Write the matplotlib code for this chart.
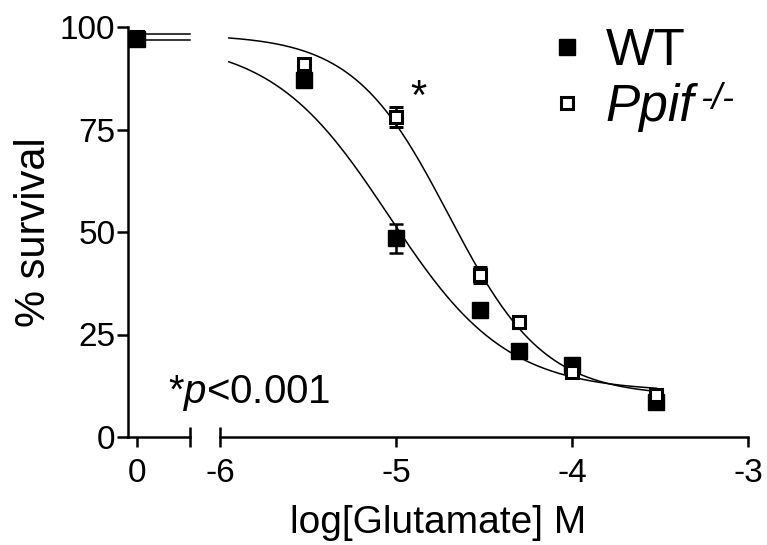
import numpy as np
import matplotlib
matplotlib.use("Agg")
import matplotlib.pyplot as plt

plt.rcParams['font.family'] = ['Liberation Sans', 'DejaVu Sans']
plt.rcParams['mathtext.fontset'] = 'custom'
plt.rcParams['mathtext.rm'] = 'Liberation Sans'
plt.rcParams['mathtext.it'] = 'Liberation Sans:italic'
plt.rcParams['axes.unicode_minus'] = False

# survival data
log_glu = [-5.52, -5.0, -4.52, -4.3, -4.0, -3.52]
wt_mean = [87, 48.5, 31, 21, 17.5, 8.5]
wt_sem = [1.5, 3.5, 1, 1, 1, 1]
ppif_mean = [91, 78, 39.5, 28, 15.8, 10.3]
ppif_sem = [1, 2.5, 2, 1, 1, 1]
ctrl_wt, ctrl_wt_sem = 97, 1.5
ctrl_ppif, ctrl_ppif_sem = 97.5, 1

# sigmoid fit parameters (top, bottom, logIC50, hill)
wt_fit = (96.8, 11, -5.04, 1.3)
ppif_fit = (98.2, 10, -4.70, 1.6)


def sigmoid(x, top, bottom, logic50, hill):
    return bottom + (top - bottom) / (1 + 10 ** (hill * (x - logic50)))


W, H = 767, 545
fig = plt.figure(figsize=(W / 100, H / 100), dpi=100)
ax0 = fig.add_axes([128 / W, (H - 437) / H, 62 / W, 410 / H])
ax1 = fig.add_axes([220 / W, (H - 437) / H, 528 / W, 410 / H])

lw = 1.8
for ax in (ax0, ax1):
    ax.set_ylim(0, 100)
    for s in ('top', 'right'):
        ax.spines[s].set_visible(False)
    for s in ('left', 'bottom'):
        ax.spines[s].set_linewidth(lw)
    ax.tick_params(width=lw, length=7, labelsize=24, pad=4)
    ax.tick_params(axis='x', pad=8)
    ax.patch.set_alpha(0)

ax1.spines['left'].set_visible(False)
ax1.tick_params(axis='y', left=False, labelleft=False)

# left part: control
ax0.set_xlim(-0.5, 3)
ax0.set_xticks([0])
ax0.set_xticks([3], minor=True)
ax0.tick_params(axis='x', which='minor', direction='inout', length=14, width=lw)
ax0.set_yticks([0, 25, 50, 75, 100])
ax0.tick_params(axis='y', length=8, pad=1)
ax0.set_ylabel('% survival', fontsize=30, labelpad=4)

ax0.plot([0, 3], [wt_fit[0]] * 2, color='black', lw=1.1, clip_on=False)
ax0.plot([0, 3], [ppif_fit[0]] * 2, color='black', lw=1.1, clip_on=False)
ax0.errorbar([0], [ctrl_ppif], yerr=[ctrl_ppif_sem], fmt='s', ms=9, mfc='white', mec='black',
             mew=2.2, ecolor='black', elinewidth=lw, capsize=5, capthick=lw, clip_on=False, zorder=3)
ax0.errorbar([0], [ctrl_wt], yerr=[ctrl_wt_sem], fmt='s', ms=11, color='black',
             elinewidth=lw, capsize=5, capthick=lw, clip_on=False, zorder=4)

# right part: glutamate doses
ax1.set_xlim(-6, -3)
ax1.set_xticks([-5, -4, -3])
ax1.set_xticks([-6], labels=['-6'], minor=True)
ax1.tick_params(axis='x', which='minor', direction='inout', length=14, width=lw, labelsize=24, pad=8)

xf = np.linspace(-5.95, log_glu[-1], 300)
ax1.plot(xf, sigmoid(xf, *wt_fit), color='black', lw=1.1)
ax1.plot(xf, sigmoid(xf, *ppif_fit), color='black', lw=1.1)

h_wt = ax1.errorbar(log_glu, wt_mean, yerr=wt_sem, fmt='s', ms=11, color='black',
                    elinewidth=lw, capsize=5, capthick=lw, clip_on=False, zorder=4)
h_pp = ax1.errorbar(log_glu, ppif_mean, yerr=ppif_sem, fmt='s', ms=9, mfc='white', mec='black',
                    mew=2.2, ecolor='black', elinewidth=lw, capsize=5, capthick=lw,
                    clip_on=False, zorder=5)

ax1.text(-4.87, 82.7, '*', fontsize=30, ha='center', va='center')

leg = ax1.legend([h_wt[0], h_pp[0]], ['WT', 'Ppif'],
                 loc='upper left', bbox_to_anchor=(521 / W, 1 - 1 / H),
                 bbox_transform=fig.transFigure, frameon=False, fontsize=37,
                 handlelength=0.8, handletextpad=0.35, labelspacing=0.15, borderpad=0)
leg.get_texts()[1].set_style('italic')
sup = ax1.annotate('-/-', xy=(1, 1), xycoords=leg.get_texts()[1], xytext=(4, 1),
                   textcoords='offset points', fontsize=26, fontstyle='italic',
                   ha='left', va='top', annotation_clip=False)
sup.set_zorder(10)

fig.text(168 / W, (H - 403) / H, r'*$\mathit{p}$<0.001', fontsize=29, va='baseline')
fig.text(438 / W, (H - 533) / H, 'log[Glutamate] M', fontsize=28, ha='center', va='baseline')

fig.savefig('out.png', dpi=100)
